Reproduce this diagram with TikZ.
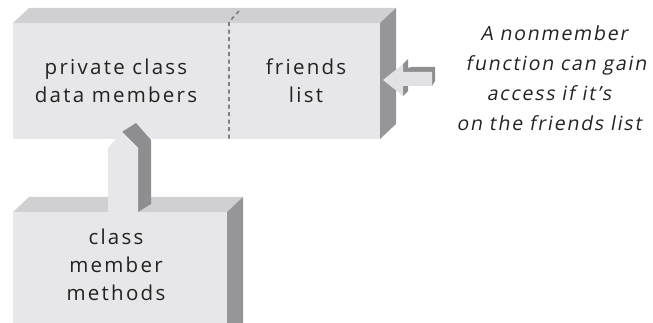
\documentclass[tikz,border=0pt]{standalone}
\usepackage{fontspec}
\setmainfont{Open Sans}[LetterSpace=11]
\newfontfamily\notefont{Open Sans}[LetterSpace=9, FakeSlant=0.18]
\definecolor{front}{HTML}{E7E7E9}
\definecolor{topc}{HTML}{D0D0D2}
\definecolor{side}{HTML}{95959A}
\definecolor{arrdark}{HTML}{8E8E91}
\definecolor{txt}{HTML}{222222}
\definecolor{dashgray}{HTML}{808083}
\tikzset{
  lbl/.style={font=\fontsize{20.5}{28}\selectfont, text=txt, align=center, inner sep=0pt},
  note/.style={font=\notefont\fontsize{19.5}{30}\selectfont, text=txt, align=center, inner sep=0pt},
}
\begin{document}
\begin{tikzpicture}[x=1pt,y=-1pt]
\useasboundingbox (0,0) rectangle (653,323);
% upper box
\fill[topc] (13,23) -- (29,8) -- (396,8) -- (380,23) -- cycle;
\fill[side] (380,23) -- (396,8) -- (396,124) -- (380,139) -- cycle;
\fill[front] (13,23) rectangle (380,139);
\draw[dashgray, line width=1.6pt, dash pattern=on 4pt off 3.5pt] (239,11) -- (229,22) -- (229,139);
% lower box
\fill[topc] (13,212) -- (29,197) -- (243,197) -- (227,212) -- cycle;
\fill[side] (227,212) -- (243,197) -- (243,323) -- (227,323) -- cycle;
\fill[front] (13,212) rectangle (227,323);
% vertical connector
\fill[arrdark] (122,132) -- (136,123) -- (151,140) -- (151,204) -- (138,212) -- (138,148) -- cycle;
\fill[front] (108,212) -- (108,148) -- (122,132) -- (138,148) -- (138,212) -- cycle;
% horizontal arrow
\fill[arrdark] (403,64) -- (408,59) -- (408,68) -- (412,67) -- (435,67) -- (435,81) -- (432,86) -- (408,86) -- (408,91) -- (403,96) -- cycle;
\fill[front!80!topc] (383,80) -- (403,64) -- (403,72) -- (432,72) -- (432,86) -- (403,86) -- (403,96) -- cycle;
% text
\node[lbl] (priv) at (116,81) {private class\\data members};
\node[lbl] (fr) at (306,81) {friends\\list};
\node[lbl] (cm) at (116,265) {class\\member\\methods};
\node[note] (nm) at (549,78) {\hspace*{10pt}A nonmember\\\hspace*{14pt}function can gain\\access if it’s\\on the friends list};
\end{tikzpicture}
\end{document}
